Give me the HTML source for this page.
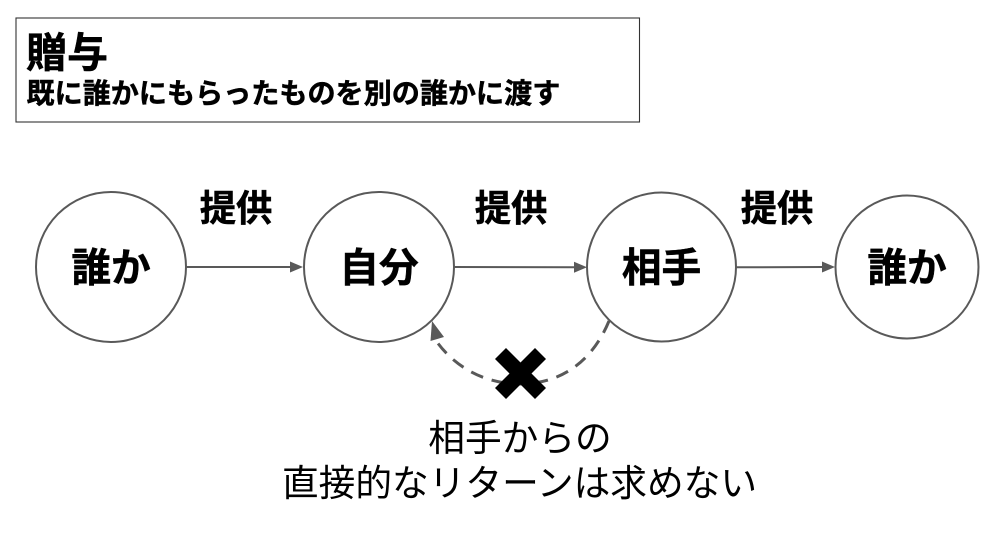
<!DOCTYPE html>
<html lang="ja"><head><meta charset="utf-8"><style>
html,body{margin:0;padding:0;background:#fff;width:998px;height:546px;overflow:hidden}
svg{display:block}
text{font-family:"Liberation Sans","Noto Sans CJK JP",sans-serif;fill:#000}
.b{font-weight:700;stroke:#000;stroke-width:.5px}
</style></head><body>
<svg width="998" height="546" viewBox="0 0 998 546" xmlns="http://www.w3.org/2000/svg">
<rect x="16" y="18" width="623.500" height="104" fill="#fff" stroke="#333" stroke-width="1.100"/>
<text class="b" x="26" y="67" font-size="41">贈与</text>
<text class="b" x="26.500" y="103" font-size="28.100">既に誰かにもらったものを別の誰かに渡す</text>
<g fill="#fff" stroke="#595959" stroke-width="2">
<circle cx="111" cy="267" r="75"/>
<circle cx="379" cy="267" r="75"/>
<circle cx="661.500" cy="267" r="74.500"/>
<circle cx="907" cy="267" r="71.500"/>
</g>
<g stroke="#595959" stroke-width="2" fill="none">
<line x1="186" y1="267" x2="291" y2="267"/>
<line x1="454" y1="267" x2="575" y2="267.300"/>
<line x1="736" y1="267.300" x2="823" y2="267"/>
<path d="M609 321C590 367 555 384 520 384C485 384 455 367 437 342" stroke-width="3" stroke-dasharray="13 9"/>
</g>
<g fill="#595959">
<path d="M290 261.500L303 267L290 272.500Z"/>
<path d="M574 261.800L587 267.300L574 272.800Z"/>
<path d="M822 261.500L835 267L822 272.500Z"/>
<path d="M432 321L444 337L430.500 341Z"/>
</g>
<path d="M495 359L506 348L520.500 362.500L535 348L546 359L531.500 373.500L546 388L535 399L520.500 384.500L506 399L495 388L509.500 373.500Z" fill="#000"/>
<g class="b" font-size="39.700" text-anchor="middle">
<text x="111" y="281.500">誰か</text>
<text x="379" y="281.500">自分</text>
<text x="661.500" y="281.500">相手</text>
<text x="907" y="281.500">誰か</text>
</g>
<g class="b" font-size="36.300" text-anchor="middle">
<text x="236" y="221">提供</text>
<text x="511" y="221">提供</text>
<text x="777" y="221">提供</text>
</g>
<g font-size="36.700" text-anchor="middle">
<text x="520" y="451">相手からの</text>
<text x="519.500" y="496">直接的なリターンは求めない</text>
</g>
</svg>
</body></html>
